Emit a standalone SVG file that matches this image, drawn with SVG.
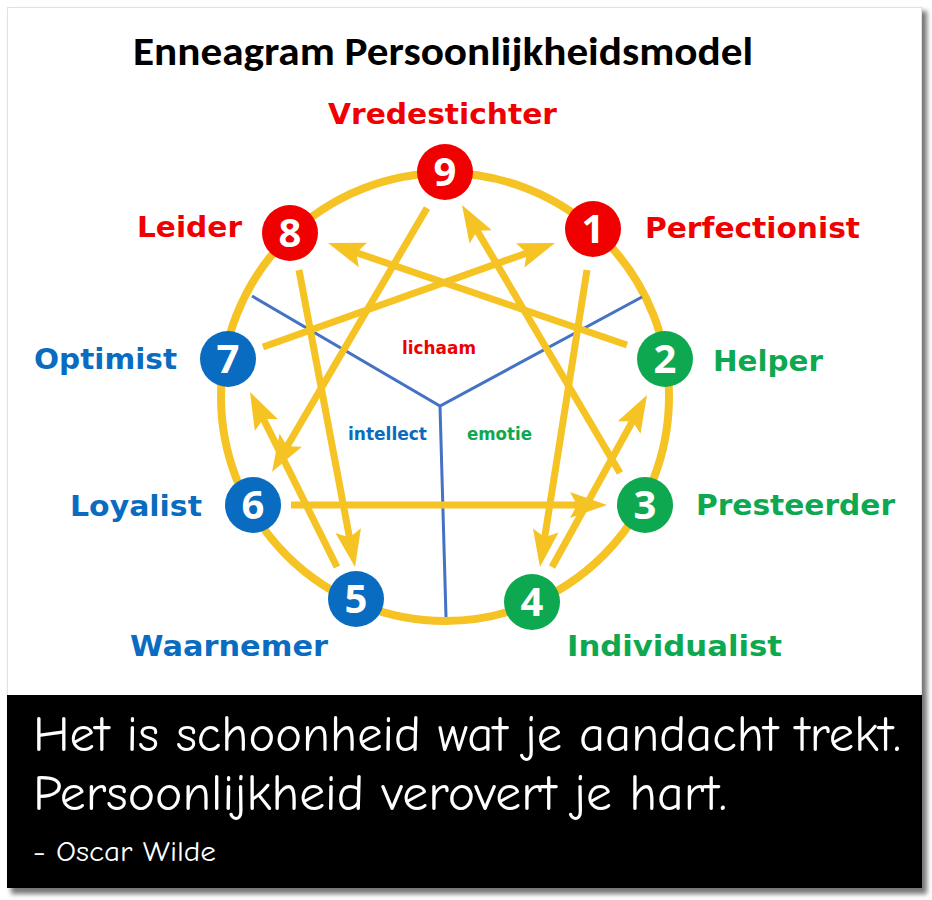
<svg xmlns="http://www.w3.org/2000/svg" width="932" height="900" viewBox="0 0 932 900">
<style>
.ring{fill:none;stroke:#F6C324;stroke-width:8}
.arr{stroke:#F6C324;stroke-width:7;fill:none;marker-end:url(#ah)}
.div{stroke:#4472C4;stroke-width:3;fill:none}
.red{fill:#F00000}
.blue{fill:#0A6CC0}
.green{fill:#0DA84F}
.num{font-family:"Open Sans","DejaVu Sans",sans-serif;font-weight:bold;font-size:40px;fill:#fff;text-anchor:middle}
.lbl{font-family:"DejaVu Sans","Verdana",sans-serif;font-weight:bold;font-size:29px}
.sm{font-family:"DejaVu Sans","Verdana",sans-serif;font-weight:bold;font-size:17px}
.title{font-family:"Carlito","Open Sans",sans-serif;font-weight:bold;font-size:41px;fill:#000}
.quote{font-family:"Comic Sans MS","Comic Neue","Noto Sans",sans-serif;fill:#fff}
</style>
<defs>
<marker id="ah" markerUnits="userSpaceOnUse" viewBox="0 0 37 26" markerWidth="37" markerHeight="26" refX="19" refY="13" orient="auto">
<path d="M0,0 L37,13 L0,26 L7,13 Z" fill="#F6C324"/>
</marker>
<filter id="sh" x="-5%" y="-5%" width="110%" height="110%">
<feGaussianBlur stdDeviation="2.5"/>
</filter>
</defs>
<rect x="0" y="0" width="932" height="900" fill="#fff"/>
<rect x="11" y="11" width="916" height="883" fill="#777" filter="url(#sh)"/>
<rect x="7.5" y="7.5" width="914" height="688" fill="#fff" stroke="#e2e2e2" stroke-width="1"/>
<rect x="7" y="695" width="915" height="193" fill="#000"/>

<text class="title" x="443" y="65" text-anchor="middle" textLength="620" lengthAdjust="spacingAndGlyphs">Enneagram Persoonlijkheidsmodel</text>

<circle class="ring" cx="445" cy="397" r="224"/>

<g id="dividers">
<polyline class="div" points="252,296 440,406 642,297"/>
<line class="div" x1="440" y1="406" x2="446" y2="617"/>
</g>

<g id="connectors">
<line class="arr" x1="627" y1="345" x2="345.0" y2="248.8"/>
<line class="arr" x1="263" y1="347" x2="538.0" y2="249.0"/>
<line class="arr" x1="620" y1="473" x2="471.1" y2="220.5"/>
<line class="arr" x1="427" y1="208" x2="281.1" y2="456.5"/>
<line class="arr" x1="337" y1="567" x2="258.0" y2="408.1"/>
<line class="arr" x1="299" y1="270" x2="351.7" y2="549.3"/>
<line class="arr" x1="587" y1="270" x2="542.8" y2="549.2"/>
<line class="arr" x1="552" y1="567" x2="638.3" y2="410.8"/>
<line class="arr" x1="291" y1="505" x2="589" y2="505"/>
</g>

<g id="zones">
<text class="sm red" x="402" y="354" textLength="74" lengthAdjust="spacingAndGlyphs">lichaam</text>
<text class="sm blue" x="348" y="440" textLength="79" lengthAdjust="spacingAndGlyphs">intellect</text>
<text class="sm green" x="467" y="440" textLength="65" lengthAdjust="spacingAndGlyphs">emotie</text>
</g>

<g id="n9"><circle class="red" cx="445" cy="172" r="28"/><text class="num" x="445" y="186">9</text>
<text class="lbl red" x="328" y="124" textLength="229" lengthAdjust="spacingAndGlyphs">Vredestichter</text></g>
<g id="n1"><circle class="red" cx="593" cy="229" r="28"/><text class="num" x="593" y="243">1</text>
<text class="lbl red" x="645" y="238" textLength="215" lengthAdjust="spacingAndGlyphs">Perfectionist</text></g>
<g id="n8"><circle class="red" cx="290" cy="233" r="28"/><text class="num" x="290" y="247">8</text>
<text class="lbl red" x="137" y="237" textLength="105" lengthAdjust="spacingAndGlyphs">Leider</text></g>
<g id="n7"><circle class="blue" cx="228" cy="359" r="28"/><text class="num" x="228" y="373">7</text>
<text class="lbl blue" x="34" y="369" textLength="143" lengthAdjust="spacingAndGlyphs">Optimist</text></g>
<g id="n2"><circle class="green" cx="665" cy="359" r="28"/><text class="num" x="665" y="373">2</text>
<text class="lbl green" x="713" y="371" textLength="110" lengthAdjust="spacingAndGlyphs">Helper</text></g>
<g id="n6"><circle class="blue" cx="253" cy="505" r="28"/><text class="num" x="253" y="519">6</text>
<text class="lbl blue" x="70" y="516" textLength="132" lengthAdjust="spacingAndGlyphs">Loyalist</text></g>
<g id="n3"><circle class="green" cx="645" cy="505" r="28"/><text class="num" x="645" y="519">3</text>
<text class="lbl green" x="696" y="515" textLength="199" lengthAdjust="spacingAndGlyphs">Presteerder</text></g>
<g id="n5"><circle class="blue" cx="356" cy="599" r="28"/><text class="num" x="356" y="613">5</text>
<text class="lbl blue" x="130" y="656" textLength="198" lengthAdjust="spacingAndGlyphs">Waarnemer</text></g>
<g id="n4"><circle class="green" cx="532" cy="602" r="28"/><text class="num" x="532" y="616">4</text>
<text class="lbl green" x="567" y="656" textLength="215" lengthAdjust="spacingAndGlyphs">Individualist</text></g>

<g id="quote">
<text class="quote" x="33" y="751" font-size="50" textLength="868" lengthAdjust="spacingAndGlyphs">Het is schoonheid wat je aandacht trekt.</text>
<text class="quote" x="33" y="810" font-size="50" textLength="694" lengthAdjust="spacingAndGlyphs">Persoonlijkheid verovert je hart.</text>
<text class="quote" x="33" y="861" font-size="29" textLength="183" lengthAdjust="spacingAndGlyphs">- Oscar Wilde</text>
</g>
</svg>
